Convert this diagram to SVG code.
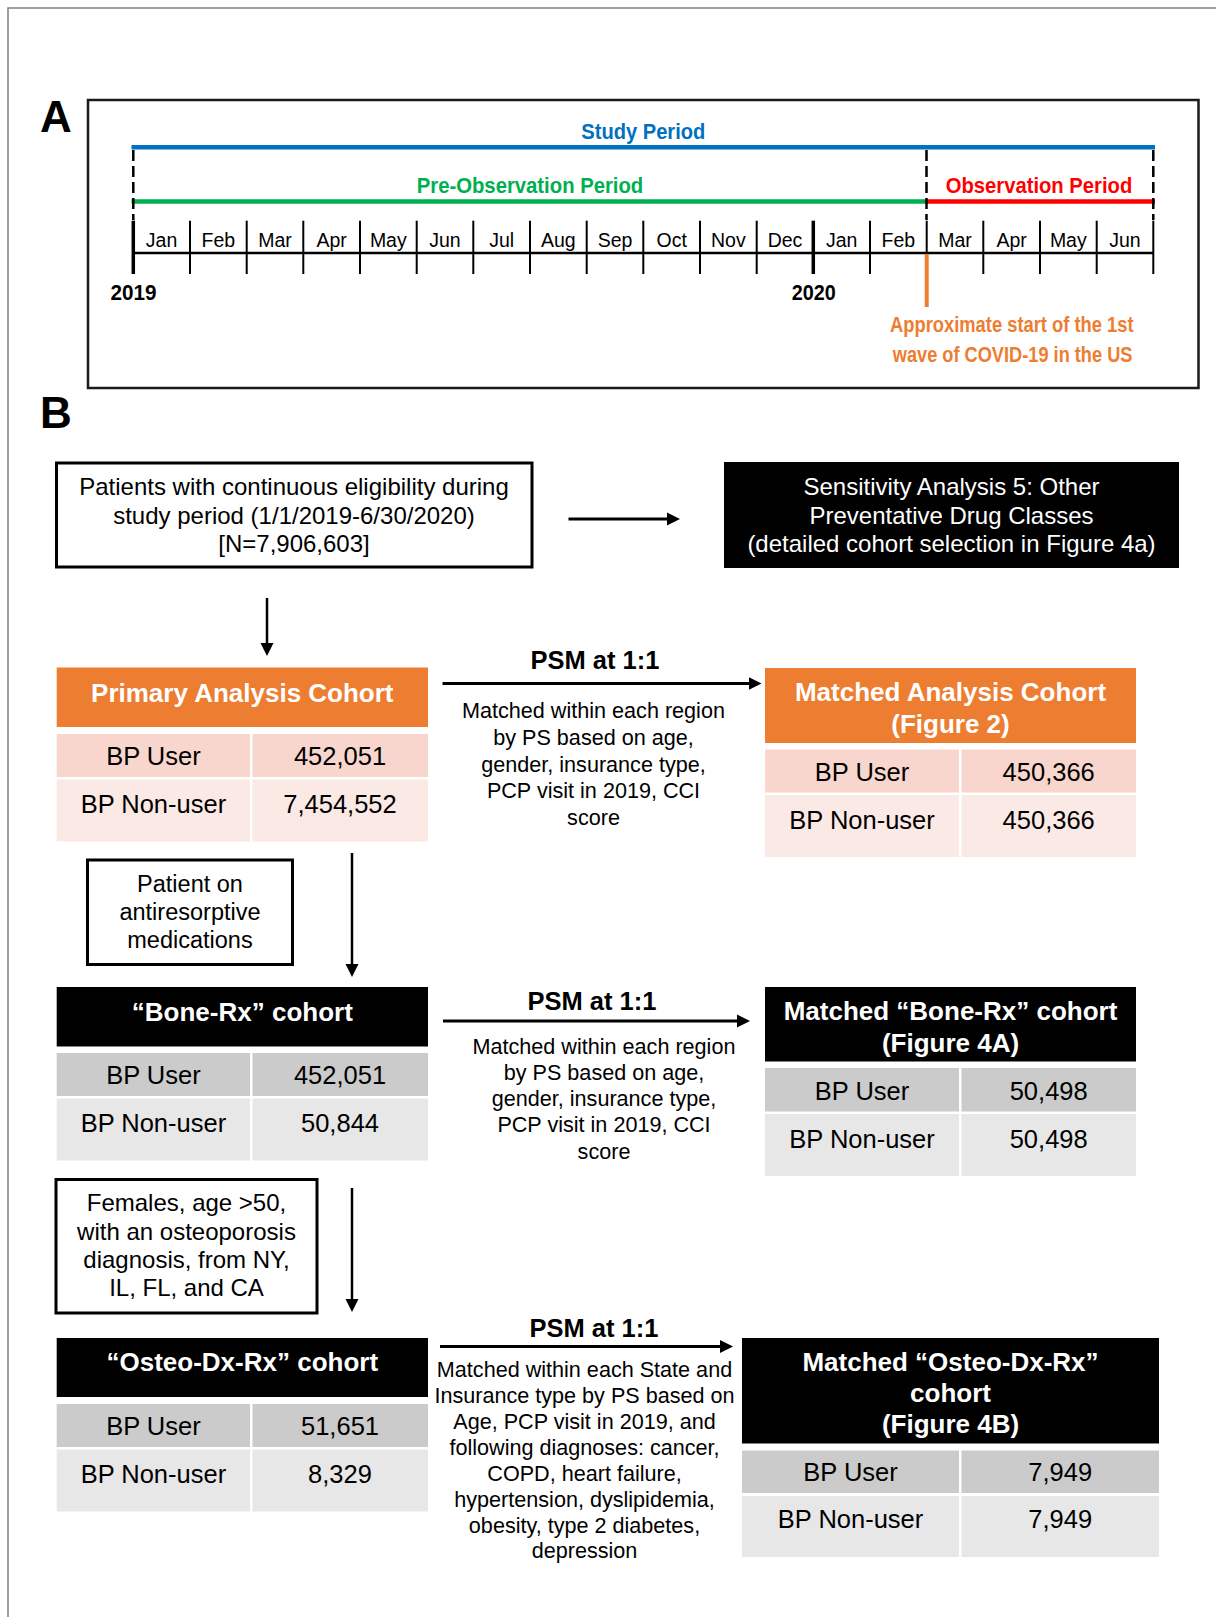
<svg xmlns="http://www.w3.org/2000/svg" width="1216" height="1617" viewBox="0 0 1216 1617">
<defs>
<style>
text{font-family:"Liberation Sans",Arial,sans-serif;fill:#000}
.lbl{font-size:44px;font-weight:bold}
.cal{font-weight:bold;font-size:22.5px;text-anchor:middle}
.mon{font-size:19.5px;text-anchor:middle}
.yr{font-size:21.5px;font-weight:bold;text-anchor:middle}
.orn{font-size:22px;font-weight:bold;text-anchor:middle;fill:#ED7D31}
.t24{font-size:24px;text-anchor:middle}
.t23{font-size:23.5px;text-anchor:middle}
.hd{font-size:26px;font-weight:bold;text-anchor:middle}
.hd,.wt{fill:#fff}
.cell{font-size:25.5px;text-anchor:middle}
.psm{font-size:25.5px;font-weight:bold;text-anchor:middle}
.note{font-size:21.6px;text-anchor:middle}
.box{fill:#fff;stroke:#000;stroke-width:3}
.tick{stroke:#000;stroke-width:2}
.thick{stroke:#000;stroke-width:3.5}
.dash{stroke:#000;stroke-width:2.5;stroke-dasharray:11 5}
.org{fill:#ED7D31}
.o1{fill:#F8D6CD}
.o2{fill:#FBE9E5}
.g1{fill:#CBCBCB}
.g2{fill:#E7E7E7}
.blk{fill:#000}
.harr{stroke:#000;stroke-width:3;fill:none;marker-end:url(#arr)}
.varr{stroke:#000;stroke-width:2.5;fill:none;marker-end:url(#arr)}
</style>
<marker id="arr" markerUnits="userSpaceOnUse" markerWidth="14" markerHeight="14" viewBox="0 0 14 14" refX="6" refY="7" orient="auto"><path d="M0,0.5 L13,7 L0,13.5 Z" fill="#000"/></marker>
</defs>
<rect width="1216" height="1617" fill="#fff"/>
<path d="M8,1617 V8 H1216" stroke="#808080" stroke-width="1.5" fill="none"/>

<text class="lbl" x="40" y="132">A</text>
<text class="lbl" x="40" y="428">B</text>

<g id="timeline">
<rect x="88" y="100" width="1110.5" height="288" fill="none" stroke="#1a1a1a" stroke-width="2.5"/>
<line x1="131.5" y1="147.3" x2="1155" y2="147.3" stroke="#0070C0" stroke-width="4.5"/>
<line x1="131.5" y1="201.5" x2="926" y2="201.5" stroke="#00B050" stroke-width="4.5"/>
<line x1="926" y1="201.5" x2="1155" y2="201.5" stroke="#FF0000" stroke-width="4.5"/>
<line class="dash" x1="133.3" y1="150" x2="133.3" y2="220"/>
<line class="dash" x1="926.5" y1="150" x2="926.5" y2="220"/>
<line class="dash" x1="1153.3" y1="150" x2="1153.3" y2="220"/>
<text class="cal" x="643.3" y="139.3" style="fill:#0070C0" textLength="124" lengthAdjust="spacingAndGlyphs">Study Period</text>
<text class="cal" x="530" y="192.7" style="fill:#00B050" textLength="226.5" lengthAdjust="spacingAndGlyphs">Pre-Observation Period</text>
<text class="cal" x="1039" y="193.3" style="fill:#FF0000" textLength="186.6" lengthAdjust="spacingAndGlyphs">Observation Period</text>
<line x1="133.3" y1="253" x2="1153.3" y2="253" stroke="#000" stroke-width="2.5"/>
<line class="thick" x1="133.3" y1="220.7" x2="133.3" y2="274"/>
<line class="tick" x1="190" y1="220.7" x2="190" y2="274"/>
<line class="tick" x1="246.7" y1="220.7" x2="246.7" y2="274"/>
<line class="tick" x1="303.3" y1="220.7" x2="303.3" y2="274"/>
<line class="tick" x1="360" y1="220.7" x2="360" y2="274"/>
<line class="tick" x1="416.7" y1="220.7" x2="416.7" y2="274"/>
<line class="tick" x1="473.3" y1="220.7" x2="473.3" y2="274"/>
<line class="tick" x1="530" y1="220.7" x2="530" y2="274"/>
<line class="tick" x1="586.7" y1="220.7" x2="586.7" y2="274"/>
<line class="tick" x1="643.3" y1="220.7" x2="643.3" y2="274"/>
<line class="tick" x1="700" y1="220.7" x2="700" y2="274"/>
<line class="tick" x1="756.7" y1="220.7" x2="756.7" y2="274"/>
<line class="thick" x1="813.3" y1="220.7" x2="813.3" y2="274"/>
<line class="tick" x1="870" y1="220.7" x2="870" y2="274"/>
<line class="tick" x1="926.7" y1="220.7" x2="926.7" y2="253"/>
<line class="tick" x1="983.3" y1="220.7" x2="983.3" y2="274"/>
<line class="tick" x1="1040" y1="220.7" x2="1040" y2="274"/>
<line class="tick" x1="1096.7" y1="220.7" x2="1096.7" y2="274"/>
<line class="tick" x1="1153.3" y1="220.7" x2="1153.3" y2="274"/>
<line x1="926.7" y1="254" x2="926.7" y2="307" stroke="#ED7D31" stroke-width="4"/>
<text class="mon" x="161.6" y="246.7">Jan</text>
<text class="mon" x="218.3" y="246.7">Feb</text>
<text class="mon" x="275" y="246.7">Mar</text>
<text class="mon" x="331.7" y="246.7">Apr</text>
<text class="mon" x="388.3" y="246.7">May</text>
<text class="mon" x="445" y="246.7">Jun</text>
<text class="mon" x="501.7" y="246.7">Jul</text>
<text class="mon" x="558.3" y="246.7">Aug</text>
<text class="mon" x="615" y="246.7">Sep</text>
<text class="mon" x="671.7" y="246.7">Oct</text>
<text class="mon" x="728.3" y="246.7">Nov</text>
<text class="mon" x="785" y="246.7">Dec</text>
<text class="mon" x="841.7" y="246.7">Jan</text>
<text class="mon" x="898.3" y="246.7">Feb</text>
<text class="mon" x="955" y="246.7">Mar</text>
<text class="mon" x="1011.7" y="246.7">Apr</text>
<text class="mon" x="1068.3" y="246.7">May</text>
<text class="mon" x="1125" y="246.7">Jun</text>
<text class="yr" x="133.6" y="300" textLength="46" lengthAdjust="spacingAndGlyphs">2019</text>
<text class="yr" x="813.8" y="300" textLength="44" lengthAdjust="spacingAndGlyphs">2020</text>
<text class="orn" x="1011.8" y="331.7" textLength="243.6" lengthAdjust="spacingAndGlyphs">Approximate start of the 1st</text>
<text class="orn" x="1012.6" y="361.7" textLength="239.7" lengthAdjust="spacingAndGlyphs">wave of COVID-19 in the US</text>
</g>

<g id="patients-box">
<rect class="box" x="56.5" y="463" width="475.5" height="104"/>
<text class="t24" x="294" y="495">Patients with continuous eligibility during</text>
<text class="t24" x="294" y="523.5">study period (1/1/2019-6/30/2020)</text>
<text class="t24" x="294" y="552">[N=7,906,603]</text>
</g>

<g id="sensitivity-box">
<rect class="blk" x="724" y="462" width="455" height="106"/>
<text class="t24 wt" x="951.5" y="495">Sensitivity Analysis 5: Other</text>
<text class="t24 wt" x="951.5" y="523.5">Preventative Drug Classes</text>
<text class="t24 wt" x="951.5" y="552">(detailed cohort selection in Figure 4a)</text>
</g>

<g id="primary-cohort">
<rect class="org" x="56.7" y="667.5" width="371.3" height="59.5"/>
<rect class="o1" x="56.7" y="734" width="193.3" height="43"/>
<rect class="o1" x="252.5" y="734" width="175.5" height="43"/>
<rect class="o2" x="56.7" y="779.5" width="193.3" height="62"/>
<rect class="o2" x="252.5" y="779.5" width="175.5" height="62"/>
<text class="hd" x="242.3" y="701.5">Primary Analysis Cohort</text>
<text class="cell" x="153.4" y="765">BP User</text>
<text class="cell" x="340" y="765">452,051</text>
<text class="cell" x="153.4" y="813">BP Non-user</text>
<text class="cell" x="340" y="813">7,454,552</text>
</g>

<g id="matched-analysis-cohort">
<rect class="org" x="765" y="668" width="371" height="75"/>
<rect class="o1" x="765" y="749.5" width="194" height="43"/>
<rect class="o1" x="961.5" y="749.5" width="174.5" height="43"/>
<rect class="o2" x="765" y="795" width="194" height="62"/>
<rect class="o2" x="961.5" y="795" width="174.5" height="62"/>
<text class="hd" x="950.5" y="701">Matched Analysis Cohort</text>
<text class="hd" x="950.5" y="733">(Figure 2)</text>
<text class="cell" x="862" y="781">BP User</text>
<text class="cell" x="1048.7" y="781">450,366</text>
<text class="cell" x="862" y="828.5">BP Non-user</text>
<text class="cell" x="1048.7" y="828.5">450,366</text>
</g>

<g id="antiresorptive-box">
<rect class="box" x="87.5" y="860" width="205" height="104.5"/>
<text class="t23" x="190" y="892">Patient on</text>
<text class="t23" x="190" y="920">antiresorptive</text>
<text class="t23" x="190" y="948">medications</text>
</g>

<g id="bone-rx-cohort">
<rect class="blk" x="56.7" y="987" width="371.3" height="59.5"/>
<rect class="g1" x="56.7" y="1053" width="193.3" height="43"/>
<rect class="g1" x="252.5" y="1053" width="175.5" height="43"/>
<rect class="g2" x="56.7" y="1098.5" width="193.3" height="62"/>
<rect class="g2" x="252.5" y="1098.5" width="175.5" height="62"/>
<text class="hd" x="242.3" y="1020.5">“Bone-Rx” cohort</text>
<text class="cell" x="153.4" y="1084">BP User</text>
<text class="cell" x="340" y="1084">452,051</text>
<text class="cell" x="153.4" y="1132">BP Non-user</text>
<text class="cell" x="340" y="1132">50,844</text>
</g>

<g id="matched-bone-rx-cohort">
<rect class="blk" x="765" y="987" width="371" height="74.5"/>
<rect class="g1" x="765" y="1068" width="194" height="43.5"/>
<rect class="g1" x="961.5" y="1068" width="174.5" height="43.5"/>
<rect class="g2" x="765" y="1114" width="194" height="62"/>
<rect class="g2" x="961.5" y="1114" width="174.5" height="62"/>
<text class="hd" x="950.5" y="1020">Matched “Bone-Rx” cohort</text>
<text class="hd" x="950.5" y="1052">(Figure 4A)</text>
<text class="cell" x="862" y="1100">BP User</text>
<text class="cell" x="1048.7" y="1100">50,498</text>
<text class="cell" x="862" y="1147.5">BP Non-user</text>
<text class="cell" x="1048.7" y="1147.5">50,498</text>
</g>

<g id="females-box">
<rect class="box" x="56" y="1179.5" width="261" height="133.5"/>
<text class="t24" x="186.5" y="1211">Females, age &gt;50,</text>
<text class="t24" x="186.5" y="1239.5">with an osteoporosis</text>
<text class="t24" x="186.5" y="1268">diagnosis, from NY,</text>
<text class="t24" x="186.5" y="1296">IL, FL, and CA</text>
</g>

<g id="osteo-dx-rx-cohort">
<rect class="blk" x="56.7" y="1338" width="371.3" height="59"/>
<rect class="g1" x="56.7" y="1404" width="193.3" height="43"/>
<rect class="g1" x="252.5" y="1404" width="175.5" height="43"/>
<rect class="g2" x="56.7" y="1449.5" width="193.3" height="62"/>
<rect class="g2" x="252.5" y="1449.5" width="175.5" height="62"/>
<text class="hd" x="242.3" y="1371">“Osteo-Dx-Rx” cohort</text>
<text class="cell" x="153.4" y="1435">BP User</text>
<text class="cell" x="340" y="1435">51,651</text>
<text class="cell" x="153.4" y="1482.5">BP Non-user</text>
<text class="cell" x="340" y="1482.5">8,329</text>
</g>

<g id="matched-osteo-dx-rx-cohort">
<rect class="blk" x="742" y="1338" width="417" height="105.5"/>
<rect class="g1" x="742" y="1450.5" width="217" height="42.5"/>
<rect class="g1" x="961.5" y="1450.5" width="197.5" height="42.5"/>
<rect class="g2" x="742" y="1496" width="217" height="61"/>
<rect class="g2" x="961.5" y="1496" width="197.5" height="61"/>
<text class="hd" x="950.5" y="1371">Matched “Osteo-Dx-Rx”</text>
<text class="hd" x="950.5" y="1402">cohort</text>
<text class="hd" x="950.5" y="1433">(Figure 4B)</text>
<text class="cell" x="850.5" y="1481">BP User</text>
<text class="cell" x="1060.2" y="1481">7,949</text>
<text class="cell" x="850.5" y="1528">BP Non-user</text>
<text class="cell" x="1060.2" y="1528">7,949</text>
</g>

<g id="connectors">
<line class="harr" x1="568.5" y1="519" x2="673" y2="519"/>
<line class="varr" x1="267" y1="598" x2="267" y2="649"/>
<line class="harr" x1="442.5" y1="683.5" x2="754.5" y2="683.5"/>
<line class="varr" x1="352" y1="853" x2="352" y2="970"/>
<line class="harr" x1="443" y1="1021" x2="743" y2="1021"/>
<line class="varr" x1="352" y1="1188" x2="352" y2="1305"/>
<line class="harr" x1="440" y1="1346.5" x2="726" y2="1346.5"/>
<g id="psm-label-1">
<text class="psm" x="595" y="669">PSM at 1:1</text>
<text class="note" x="593.5" y="718.3">Matched within each region</text>
<text class="note" x="593.5" y="744.9">by PS based on age,</text>
<text class="note" x="593.5" y="771.5">gender, insurance type,</text>
<text class="note" x="593.5" y="798.1">PCP visit in 2019, CCI</text>
<text class="note" x="593.5" y="824.7">score</text>
</g>
<g id="psm-label-2">
<text class="psm" x="592" y="1010">PSM at 1:1</text>
<text class="note" x="604" y="1053.5">Matched within each region</text>
<text class="note" x="604" y="1079.8">by PS based on age,</text>
<text class="note" x="604" y="1106.1">gender, insurance type,</text>
<text class="note" x="604" y="1132.4">PCP visit in 2019, CCI</text>
<text class="note" x="604" y="1158.7">score</text>
</g>
<g id="psm-label-3">
<text class="psm" x="594" y="1336.5">PSM at 1:1</text>
<text class="note" x="584.5" y="1377">Matched within each State and</text>
<text class="note" x="584.5" y="1403">Insurance type by PS based on</text>
<text class="note" x="584.5" y="1429">Age, PCP visit in 2019, and</text>
<text class="note" x="584.5" y="1454.8">following diagnoses: cancer,</text>
<text class="note" x="584.5" y="1480.7">COPD, heart failure,</text>
<text class="note" x="584.5" y="1506.6">hypertension, dyslipidemia,</text>
<text class="note" x="584.5" y="1532.5">obesity, type 2 diabetes,</text>
<text class="note" x="584.5" y="1558.3">depression</text>
</g>
</g>
</svg>
